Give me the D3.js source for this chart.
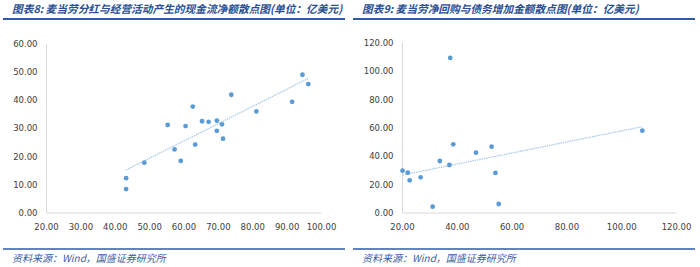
<!DOCTYPE html>
<html>
<head>
<meta charset="utf-8">
<script src="https://cdnjs.cloudflare.com/ajax/libs/d3/7.8.5/d3.min.js"></script>
<style>
  body { margin: 0; background: #fff; }
  svg { display: block; }
</style>
</head>
<body>
<div id="chart"></div>
<script>
var titles = ["图表8:  麦当劳分红与经营活动产生的现金流净额散点图(单位：亿美元)",
              "图表9:  麦当劳净回购与债务增加金额散点图(单位：亿美元)"];
var sourceText = "资料来源：Wind，国盛证券研究所";

// chart 8: dividends vs operating cash flow
var x8 = [43.3, 43.3, 48.6, 55.4, 57.4, 59.2, 60.6, 62.7, 63.4, 65.4, 67.3, 69.7, 69.7, 71.2, 71.5, 73.9, 81.2, 91.6, 94.6, 96.3];
var y8 = [12.2, 8.3, 17.7, 31.1, 22.4, 18.3, 30.7, 37.6, 24.1, 32.4, 32.2, 32.6, 29.0, 31.3, 26.2, 41.8, 35.9, 39.3, 48.9, 45.6];
var trendX8 = [43.3, 96.3];
var trendY8 = [15.1, 47.6];
var xTicks8 = [20, 30, 40, 50, 60, 70, 80, 90, 100];
var yTicks8 = [0, 10, 20, 30, 40, 50, 60];

// chart 9: net buyback vs debt increase
var x9 = [20.2, 22.1, 22.8, 26.8, 31.2, 33.8, 37.3, 37.6, 38.7, 47.0, 52.7, 54.1, 55.3, 107.7];
var y9 = [29.5, 28.1, 22.7, 24.8, 4.1, 36.3, 33.5, 109.0, 48.1, 42.2, 46.4, 27.9, 6.0, 57.7];
var trendX9 = [20.2, 107.7];
var trendY9 = [26.4, 60.5];
var xTicks9 = [20, 40, 60, 80, 100, 120];
var yTicks9 = [0, 20, 40, 60, 80, 100, 120];

var W = 700, H = 267;
var svg = d3.select("#chart").append("svg").attr("width", W).attr("height", H);

var blue = "#2b4f94";

function drawPanel(ox, title, xs, ys, tx, ty, xTicks, yTicks, plot) {
  var g = svg.append("g").attr("transform", "translate(" + ox + ",0)");

  g.append("text")
    .attr("x", 12).attr("y", 12.5)
    .attr("fill", blue)
    .style("font-family", "'Noto Sans CJK SC'")
    .style("font-style", "italic")
    .style("font-weight", "bold")
    .style("font-size", "10.7px")
    .text(title);

  g.append("line").attr("x1", 3).attr("x2", 345).attr("y1", 19).attr("y2", 19)
    .attr("stroke", "#2e5aa8").attr("stroke-width", 2);

  g.append("line").attr("x1", 3).attr("x2", 345).attr("y1", 249).attr("y2", 249)
    .attr("stroke", "#2e5aa8").attr("stroke-width", 1.5);

  g.append("text")
    .attr("x", 12).attr("y", 261.5)
    .attr("fill", "#3a5da0")
    .style("font-family", "'Noto Sans CJK SC'")
    .style("font-style", "italic")
    .style("font-size", "10px")
    .text(sourceText);

  var x = d3.scaleLinear().domain(d3.extent(xTicks)).range([plot.left, plot.right]);
  var y = d3.scaleLinear().domain(d3.extent(yTicks)).range([plot.bottom, plot.top]);

  var xAxis = g.append("g").attr("transform", "translate(0," + plot.bottom + ")")
    .call(d3.axisBottom(x).tickValues(xTicks).tickSize(0).tickPadding(11).tickFormat(d3.format(".2f")));
  var yAxis = g.append("g").attr("transform", "translate(" + plot.left + ",0)")
    .call(d3.axisLeft(y).tickValues(yTicks).tickSize(0).tickPadding(8.5).tickFormat(d3.format(".2f")));

  [xAxis, yAxis].forEach(function(a) {
    a.select(".domain").attr("stroke", "#d9d9d9");
    a.selectAll("text")
      .attr("fill", "#404040")
      .style("font-family", "'DejaVu Sans'")
      .style("font-size", "8.5px");
  });
  yAxis.selectAll("text").attr("dy", "0.35em");

  // trendline (linear, dotted)
  g.append("line")
    .attr("x1", x(tx[0])).attr("y1", y(ty[0]))
    .attr("x2", x(tx[1])).attr("y2", y(ty[1]))
    .attr("stroke", "#a6c9ea").attr("stroke-width", 1.2)
    .attr("stroke-dasharray", "1.5,0.8");

  g.selectAll("circle.pt").data(xs).enter().append("circle")
    .attr("class", "pt")
    .attr("cx", function(d) { return x(d); })
    .attr("cy", function(d, i) { return y(ys[i]); })
    .attr("r", 2.4)
    .attr("fill", "#5b9bd5");
}

drawPanel(0, titles[0], x8, y8, trendX8, trendY8, xTicks8, yTicks8, { left: 46, right: 321, top: 43.5, bottom: 212.5 });
drawPanel(350, titles[1], x9, y9, trendX9, trendY9, xTicks9, yTicks9, { left: 52, right: 326, top: 42.3, bottom: 212.5 });
</script>
</body>
</html>
